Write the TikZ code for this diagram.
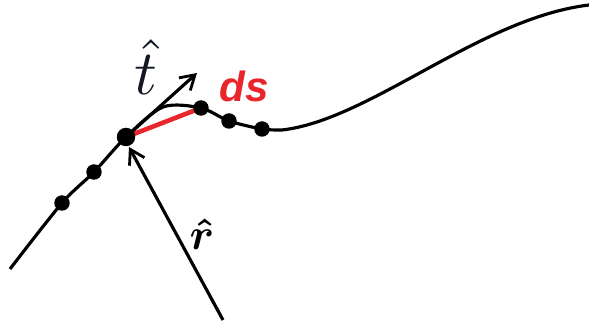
\documentclass[tikz,border=0pt]{standalone}
\usepackage{amsmath,amssymb}
\usepackage{fontspec}
\usepackage{xcolor}
\usepackage{tikz}
\usetikzlibrary{arrows.meta}
\newfontfamily\arialbi{Liberation Sans}[BoldItalicFont={* Bold Italic}]
\definecolor{redx}{HTML}{E8262B}
\definecolor{navyx}{HTML}{141824}
\tikzset{
  ar/.style={-{Straight Barb[length=2.8mm,width=3.4mm,line width=1.6pt]},line width=1.8pt,black},
  dot/.style={circle,fill=black,inner sep=0pt,minimum width=2.8mm,minimum height=3.1mm},
  bigdot/.style={circle,fill=black,inner sep=0pt,minimum size=3.7mm}
}
\begin{document}
\begin{tikzpicture}[x=0.02cm,y=-0.02cm]
\useasboundingbox (0,0) rectangle (589,324);
% path points
\coordinate (c0) at (10,269);
\coordinate (c1) at (163,107);
\coordinate (c2) at (282,130);
\coordinate (c5) at (589,5);
\coordinate (tip) at (197,73);
\coordinate (rs) at (223,320);
\coordinate (re) at (129,147);
% curve
\draw[line width=1.8pt] plot[smooth,tension=0.5] coordinates {(c0) (62,203) (94,172) (126,137) (c1) (201,108) (229,121) (262,129) (c2)}
  .. controls (370,120) and (480,18) .. (c5);
\draw[redx,line width=2.6pt] (126,137)--(201,108);
\node[dot] (d1) at (62,203) {};
\node[dot] (d2) at (94,172) {};
\node[bigdot] (p) at (126,137) {};
\node[dot] (q) at (201,108) {};
\node[dot] (d3) at (229,121) {};
\node[dot] (d4) at (262,129) {};
% vectors
\draw[ar] (p.center)--(tip);
\draw[ar] (rs)--(re);
\node[text=navyx,scale=3.6,inner sep=0pt] (tlab) at (146,67) {$\hat{t}$};
\node[text=redx,font=\fontsize{24}{24}\selectfont\arialbi\bfseries\itshape] (dslab) at (244,86) {ds};
\node[scale=2.5,inner sep=0pt] (rlab) at (202,234) {$\boldsymbol{\hat{r}}$};
\end{tikzpicture}
\end{document}
